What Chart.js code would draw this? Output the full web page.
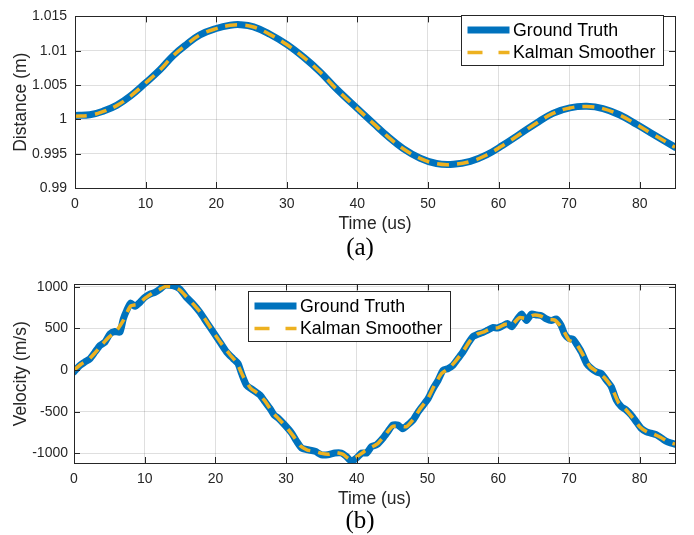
<!DOCTYPE html>
<html>
<head>
<meta charset="utf-8">
<script src="https://cdn.jsdelivr.net/npm/chart.js@4/dist/chart.umd.min.js"></script>
<style>
  body { margin: 0; background: #fff; }
  #wrap { position: relative; width: 694px; height: 535px; overflow: hidden; }
  #wrap canvas { position: absolute; left: 0; }
  .caption {
    position: absolute; transform: translateX(-50%);
    font-family: "Liberation Serif", "Times New Roman", serif;
    font-size: 25px; line-height: 28px; color: #000;
  }
</style>
</head>
<body>
<div id="wrap">
  <canvas id="distChart" width="694" height="270" style="top:0"></canvas>
  <canvas id="velChart" width="694" height="265" style="top:270px"></canvas>
  <div class="caption" style="left:360px; top:233px">(a)</div>
  <div class="caption" style="left:360px; top:506px">(b)</div>
</div>
<script>
// Datos
const seriesLabels = ["Ground Truth", "Kalman Smoother"];

const distTime = [0, 2.1, 4, 5.9, 7.8, 10, 12, 13.9, 15.8, 17.7, 20, 22, 23.4, 25.3, 27.6, 30, 32.4, 34.7,
  37.1, 40, 42.3, 44.2, 46.5, 48.9, 51.2, 53.6, 56, 58.3, 60.6, 63, 65.4, 67.7, 70.1, 72.5, 74.8, 77.2,
  79.6, 81.9, 85];
const distTruth = [1.00058, 1.00066, 1.0012, 1.00204, 1.00336, 1.00532, 1.00718, 1.00928, 1.01092, 1.01232,
  1.01324, 1.01372, 1.0138, 1.01348, 1.0124, 1.01092, 1.00904, 1.00694, 1.00438, 1.00158, 0.9994, 0.99762,
  0.99574, 0.99434, 0.99356, 0.99346, 0.99388, 0.99482, 0.99622, 0.99784, 0.99948, 1.00088, 1.00168, 1.0019,
  1.00158, 1.00064, 0.99924, 0.99784, 0.99595];
const distSmooth = [1.00045, 1.00058, 1.00115, 1.002, 1.00334, 1.0053, 1.00716, 1.00926, 1.0109, 1.0123,
  1.01322, 1.0137, 1.01378, 1.01346, 1.01238, 1.0109, 1.00902, 1.00692, 1.00436, 1.00156, 0.99938, 0.9976,
  0.99572, 0.99432, 0.99354, 0.99344, 0.99386, 0.9948, 0.9962, 0.99782, 0.99946, 1.00086, 1.00166, 1.00188,
  1.00156, 1.00062, 0.99922, 0.99782, 0.99593];

const velTruthTime = [0, 0.85, 1.55, 2.26, 2.97, 3.67, 4.38, 5.09, 5.8, 6.5, 6.97, 7.44, 8, 8.62, 9.33, 10,
  10.74, 11.45, 12.16, 12.86, 13.57, 14.04, 14.98, 15.9, 16.86, 17.81, 18.75, 19.7, 20.64, 21.58, 22.5,
  23.2, 23.7, 24.4, 25.35, 26.3, 27, 27.7, 28.3, 28.9, 29.8, 30.8, 31.5, 32.2, 33.1, 34.1, 35, 35.9, 36.9,
  37.8, 38.5, 39.25, 39.96, 40.7, 41.4, 42.1, 42.8, 43.7, 44.4, 45.1, 45.8, 46.5, 47.2, 47.96, 48.7, 49.4,
  50.1, 50.8, 51.5, 52.2, 52.9, 53.6, 54.3, 55, 55.7, 56.4, 57.1, 57.8, 58.5, 59.2, 59.9, 60.6, 61.3,
  61.9, 62.6, 63.3, 64, 64.7, 65.4, 66.1, 66.8, 67.5, 68.2, 68.9, 69.4, 70, 70.6, 71.05, 71.76, 72.5,
  73.2, 73.9, 74.6, 75.3, 76, 76.7, 77.4, 78.1, 78.8, 79.5, 80.2, 80.9, 81.6, 82.4, 83.1, 83.8, 84.5, 85];
const velTruth = [-20, 57, 98, 137, 217, 296, 336, 435, 463, 456, 614, 714, 805, 766, 814, 873, 913, 933,
  973, 1020, 1020, 1012, 973, 873, 793, 694, 575, 456, 336, 217, 137, 78, -42, -181, -241, -300, -380,
  -459, -540, -579, -659, -758, -857, -937, -957, -976, -1017, -1017, -996, -996, -1036, -1095, -1056,
  -996, -996, -917, -897, -817, -738, -659, -659, -706, -659, -599, -499, -420, -340, -221, -122, -2, 18,
  57, 137, 217, 316, 400, 430, 450, 480, 510, 505, 530, 560, 520, 600, 674, 594, 674, 662, 654, 614, 594,
  614, 535, 430, 380, 370, 316, 217, 78, 18, -22, -42, -122, -201, -360, -439, -479, -539, -618, -698,
  -738, -758, -778, -817, -857, -877, -890];

const velSmoothTime = [0, 1, 2, 3, 4, 5, 6, 7, 8, 9, 10, 11, 12, 13, 14, 15, 16, 17, 18, 19, 20, 21, 22,
  23, 24, 25, 26, 27, 28, 29, 30, 31, 32, 33, 34, 35, 36, 37, 38, 39, 40, 41, 42, 43, 44, 45, 46, 47, 48,
  49, 50, 51, 52, 53, 54, 55, 56, 57, 58, 59, 60, 61, 62, 63, 64, 65, 66, 67, 68, 69, 70, 71, 72, 73, 74,
  75, 76, 77, 78, 79, 80, 81, 82, 83, 84, 85];
const velSmooth = [0, 70, 120, 210, 310, 400, 470, 600, 770, 790, 860, 920, 965, 1005, 1000, 960, 870, 780,
  680, 550, 420, 300, 190, 90, -90, -220, -280, -370, -500, -590, -680, -790, -910, -960, -975, -1000,
  -1010, -990, -1010, -1070, -1040, -980, -930, -880, -780, -680, -670, -680, -590, -460, -350, -180, -40,
  20, 110, 220, 350, 430, 460, 500, 510, 550, 550, 630, 620, 660, 650, 610, 600, 510, 360, 320, 180, 40,
  -20, -90, -200, -390, -470, -570, -680, -740, -770, -810, -860, -890];

const timeTicks = [0, 10, 20, 30, 40, 50, 60, 70, 80];
const distTicks = [0.99, 0.995, 1, 1.005, 1.01, 1.015];
const velTicks = [-1000, -500, 0, 500, 1000];

const axisColor = "#262626";
const fontFamily = "'Liberation Sans', Arial, Helvetica, sans-serif";

// Une dos arreglos en puntos {x, y}
function toPoints(xs, ys) {
  return xs.map((x, i) => ({ x: x, y: ys[i] }));
}

// Marco estilo MATLAB con marcas hacia adentro en los cuatro lados
const frameBox = {
  id: "frameBox",
  afterDatasetsDraw(chart) {
    const ctx = chart.ctx;
    const a = chart.chartArea;
    const xs = chart.scales.x;
    const ys = chart.scales.y;
    const len = 6;
    ctx.save();
    ctx.strokeStyle = axisColor;
    ctx.lineWidth = 1;
    ctx.beginPath();
    xs.ticks.forEach((t) => {
      const px = Math.round(xs.getPixelForValue(t.value)) + 0.5;
      ctx.moveTo(px, a.bottom); ctx.lineTo(px, a.bottom - len);
      ctx.moveTo(px, a.top); ctx.lineTo(px, a.top + len);
    });
    ys.ticks.forEach((t) => {
      const py = Math.round(ys.getPixelForValue(t.value)) + 0.5;
      ctx.moveTo(a.left, py); ctx.lineTo(a.left + len, py);
      ctx.moveTo(a.right, py); ctx.lineTo(a.right - len, py);
    });
    ctx.stroke();
    ctx.strokeRect(Math.round(a.left) + 0.5, Math.round(a.top) + 0.5,
      Math.round(a.right - a.left), Math.round(a.bottom - a.top));
    ctx.restore();
  },
};

// Leyenda dibujada dentro del area del grafico
const insetLegend = {
  id: "insetLegend",
  afterDraw(chart, args, opts) {
    const ctx = chart.ctx;
    const x = opts.x, y = opts.y, w = 202, h = 50;
    ctx.save();
    ctx.fillStyle = "#fff";
    ctx.fillRect(x, y, w, h);
    ctx.strokeStyle = axisColor;
    ctx.lineWidth = 1;
    ctx.strokeRect(x + 0.5, y + 0.5, w, h);
    const rows = [15, 37.5];
    chart.data.datasets.forEach((ds, i) => {
      const ry = y + rows[i];
      ctx.beginPath();
      ctx.strokeStyle = ds.borderColor;
      ctx.lineWidth = ds.borderWidth;
      ctx.setLineDash(ds.borderDash ? [15, 16] : []);
      ctx.moveTo(x + 6.5, ry);
      ctx.lineTo(x + 48.5, ry);
      ctx.stroke();
      ctx.setLineDash([]);
      ctx.fillStyle = "#000";
      ctx.font = "17.8px " + fontFamily;
      ctx.textBaseline = "middle";
      ctx.fillText(ds.label, x + 52, ry + 1);
    });
    ctx.restore();
  },
};

function makeChart(canvasId, opts) {
  const ctx = document.getElementById(canvasId).getContext("2d");
  return new Chart(ctx, {
    type: "line",
    data: {
      datasets: [
        {
          label: seriesLabels[0],
          data: toPoints(opts.truthTime, opts.truth),
          borderColor: "#0072BD",
          borderWidth: 7,
          pointRadius: 0,
          tension: opts.tension,
          borderCapStyle: "round",
          order: 1,
        },
        {
          label: seriesLabels[1],
          data: toPoints(opts.smoothTime, opts.smooth),
          borderColor: "#EDB120",
          borderWidth: 3.5,
          borderDash: [12, 8],
          pointRadius: 0,
          tension: opts.tension,
          order: 0,
        },
      ],
    },
    options: {
      responsive: false,
      animation: false,
      layout: { padding: { left: 0, right: 19, top: opts.padTop, bottom: opts.padBottom } },
      plugins: {
        legend: { display: false },
        tooltip: { enabled: false },
        insetLegend: { x: opts.legendX, y: opts.legendY },
      },
      scales: {
        x: {
          type: "linear",
          min: 0,
          max: 85,
          afterBuildTicks: (s) => { s.ticks = timeTicks.map((v) => ({ value: v })); },
          afterFit: (s) => { s.height = 50; },
          grid: { color: "rgba(38,38,38,0.15)", drawTicks: false },
          border: { display: false },
          ticks: { color: axisColor, padding: 8, font: { family: fontFamily, size: 14 } },
          title: {
            display: true, text: "Time (us)", color: axisColor,
            padding: { top: 0, bottom: 3 }, font: { family: fontFamily, size: 17.5 },
          },
        },
        y: {
          type: "linear",
          min: opts.yMin,
          max: opts.yMax,
          afterBuildTicks: (s) => { s.ticks = opts.yTicks.map((v) => ({ value: v })); },
          afterFit: (s) => { s.width = opts.yWidth; },
          grid: { color: "rgba(38,38,38,0.15)", drawTicks: false },
          border: { display: false },
          ticks: {
            color: axisColor, padding: opts.yPad, font: { family: fontFamily, size: 14 },
            callback: (v) => String(parseFloat(Number(v).toFixed(4))),
          },
          title: {
            display: true, text: opts.yTitle, color: axisColor,
            padding: { top: 11, bottom: 0 }, font: { family: fontFamily, size: 17.5 },
          },
        },
      },
    },
    plugins: [frameBox, insetLegend],
  });
}

// Grafico (a): distancia
makeChart("distChart", {
  truthTime: distTime, truth: distTruth, smoothTime: distTime, smooth: distSmooth,
  tension: 0.4, yMin: 0.99, yMax: 1.015, yTicks: distTicks, yTitle: "Distance (m)",
  yWidth: 75, yPad: 8, padTop: 9, padBottom: 32, legendX: 461, legendY: 15,
});

// Grafico (b): velocidad
makeChart("velChart", {
  truthTime: velTruthTime, truth: velTruth, smoothTime: velSmoothTime, smooth: velSmooth,
  tension: 0.2, yMin: -1116, yMax: 1029, yTicks: velTicks, yTitle: "Velocity (m/s)",
  yWidth: 74, yPad: 6, padTop: 14, padBottom: 22, legendX: 248, legendY: 21,
});
</script>
</body>
</html>
